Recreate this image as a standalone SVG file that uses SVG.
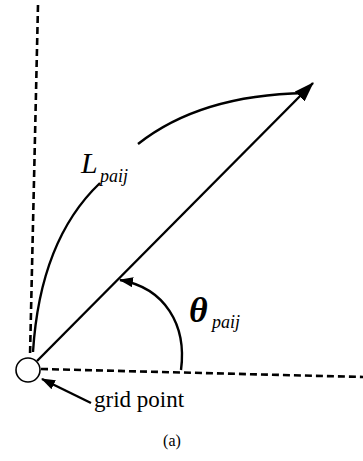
<svg xmlns="http://www.w3.org/2000/svg" width="363" height="461" viewBox="0 0 363 461">
<style>
.ln{fill:none;stroke:#000;stroke-width:2.4}
.dash{fill:none;stroke:#000;stroke-width:2.6;stroke-dasharray:7 4}
.t{font-family:'Liberation Serif','Times New Roman',serif;fill:#000}
.it{font-style:italic}
</style>
<defs>
<marker id="ah" viewBox="0 0 20 14" refX="19" refY="7" markerWidth="20" markerHeight="14" markerUnits="userSpaceOnUse" orient="auto">
<path d="M0,0 L20,7 L0,14 Z" fill="#000"/>
</marker>
<marker id="ahs" viewBox="0 0 14 10" refX="13" refY="5" markerWidth="14" markerHeight="10" markerUnits="userSpaceOnUse" orient="auto">
<path d="M0,0 L14,5 L0,10 Z" fill="#000"/>
</marker>
</defs>
<rect width="363" height="461" fill="#fff"/>
<g id="axes">
<path class="dash" d="M38,5 L30,356"/>
<path class="dash" d="M41,369 L363,377"/>
</g>
<g id="grid-point">
<circle cx="28" cy="370" r="12" fill="#fff" stroke="#000" stroke-width="1.6"/>
<text class="t" font-family="Liberation Serif, serif" x="94" y="407" font-size="23">grid point</text>
</g>
<g id="connectors">
<path class="ln" d="M37,361 L313,83" marker-end="url(#ah)"/>
<path class="ln" d="M33,352 Q40,240 100,183"/>
<path class="ln" d="M138,144 Q200,95 305,93"/>
<path class="ln" d="M181,370 C187,325 165,288 120,280" marker-end="url(#ahs)"/>
<path class="ln" d="M91,403 L42,379" marker-end="url(#ahs)"/>
</g>
<g id="label-L">
<text class="t it" font-family="Liberation Serif, serif" x="81" y="173" font-size="30">L</text>
<text class="t it" font-family="Liberation Serif, serif" x="100" y="182" font-size="18">paij</text>
</g>
<g id="label-theta">
<text class="t it" font-family="Liberation Serif, serif" x="189" y="322" font-size="36" font-weight="bold">θ</text>
<text class="t it" font-family="Liberation Serif, serif" x="212" y="328" font-size="18">paij</text>
</g>
<g id="caption">
<text class="t" font-family="Liberation Serif, serif" x="172" y="446" font-size="16" text-anchor="middle">(a)</text>
</g>
</svg>
